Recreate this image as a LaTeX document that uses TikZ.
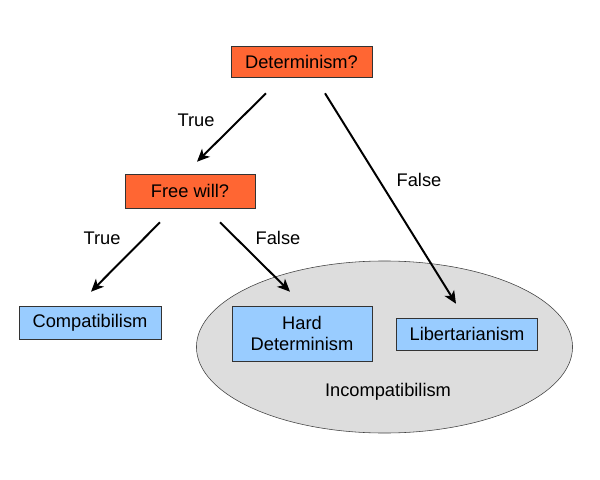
\documentclass[tikz,border=0pt]{standalone}
\usepackage{fontspec}
\setmainfont{Liberation Sans}
\usetikzlibrary{shapes.geometric,arrows.meta,calc}

\definecolor{qcolor}{RGB}{255,102,51}
\definecolor{viewcolor}{RGB}{153,204,255}
\definecolor{setcolor}{RGB}{221,221,221}

\tikzset{
  question/.style={draw=black!80, fill=qcolor, font=\fontsize{13}{15.5}\selectfont, inner sep=0pt, align=center},
  view/.style={draw=black!80, fill=viewcolor, font=\fontsize{13}{15.5}\selectfont, inner sep=0pt, align=center},
  branch/.style={line width=1.4pt, -{Stealth[length=9pt,width=8pt,inset=2.5pt]}},
  answer/.style={font=\fontsize{13}{15.5}\selectfont}
}

\begin{document}
\begin{tikzpicture}[x=0.025cm, y=-0.025cm]
    \useasboundingbox (0,0) rectangle (600,480);

    % Incompatibilism region
    \node[ellipse, draw=black!75, fill=setcolor, minimum width=9.4cm, minimum height=4.3cm] (incomp) at (384.5,347) {};
    \node[answer] (incomplabel) at (388,392) {Incompatibilism};

    % Questions
    \node[question, minimum width=3.525cm, minimum height=0.775cm] (det) at (301.5,61.5) {Determinism?};
    \node[question, minimum width=3.25cm, minimum height=0.85cm] (fw) at (190,191) {Free will?};

    % Positions
    \node[view, minimum width=3.55cm, minimum height=0.825cm] (comp) at (90,322.5) {Compatibilism};
    \node[view, minimum width=3.5cm, minimum height=1.375cm] (hard) at (302,333.5) {Hard\\Determinism};
    \node[view, minimum width=3.525cm, minimum height=0.8cm] (lib) at (467,334) {Libertarianism};

    % Branches
    \draw[branch] ($(det.south)+(-35.5,16)$) -- ($(fw.north)+(7,-12)$);
    \draw[branch] ($(det.south)+(23.5,16)$) -- ($(lib.north)+(-11,-14)$);
    \draw[branch] ($(fw.south)+(-30,14)$) -- ($(comp.north)+(1,-14)$);
    \draw[branch] ($(fw.south)+(30,14)$) -- ($(hard.north)+(-12,-14)$);

    \node[answer] (dettrue) at (196,120) {True};
    \node[answer] (detfalse) at (419,180) {False};
    \node[answer] (fwtrue) at (102,238) {True};
    \node[answer] (fwfalse) at (278,238) {False};
\end{tikzpicture}
\end{document}
